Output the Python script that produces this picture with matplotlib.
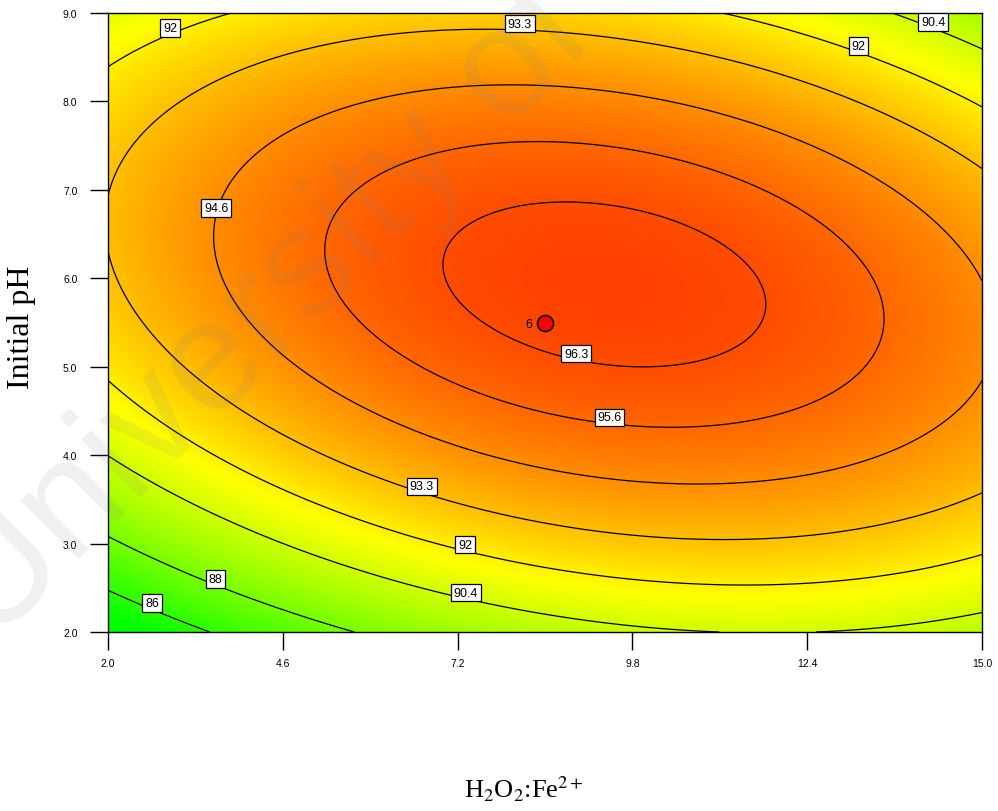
import numpy as np
import matplotlib
matplotlib.use("Agg")
import matplotlib.pyplot as plt
from matplotlib.colors import LinearSegmentedColormap, Normalize
from matplotlib.transforms import offset_copy

plt.rcParams["mathtext.fontset"] = "stix"

# Factor ranges (actual units)
ratio_range = [2.0, 15.0]     # H2O2:Fe2+ molar ratio
ph_range = [2.0, 9.0]         # initial pH

# Quadratic response-surface model in coded factors (-1 .. +1)
coef_0 = 96.49
coef_A = 0.962
coef_B = 1.533
coef_AB = -1.81
coef_AA = -2.72
coef_BB = -5.23

# Contour levels shown on the plot
contour_levels = [86, 88, 90.4, 92, 93.3, 94.6, 95.6, 96.3]

# Tick values
x_ticks = [2.0, 4.6, 7.2, 9.8, 12.4, 15.0]
y_ticks = [2.0, 3.0, 4.0, 5.0, 6.0, 7.0, 8.0, 9.0]

# Design centre point and its number of replicates
center_point = (8.5, 5.5)
center_reps = 6

# Colour-scale limits (green -> yellow -> red)
color_low, color_high = 84.85, 98.35

# Where the contour labels sit
label_spots = [(2.89, 8.82), (8.13, 8.90), (13.19, 8.62), (14.30, 8.88),
               (3.59, 6.73), (8.98, 5.13), (9.47, 4.43), (6.70, 3.65),
               (7.34, 3.00), (7.35, 2.46), (3.64, 2.60), (2.70, 2.34)]


def response(ratio, ph):
    a = (ratio - np.mean(ratio_range)) / (np.ptp(ratio_range) / 2)
    b = (ph - np.mean(ph_range)) / (np.ptp(ph_range) / 2)
    return (coef_0 + coef_A * a + coef_B * b + coef_AB * a * b
            + coef_AA * a ** 2 + coef_BB * b ** 2)


gx = np.linspace(*ratio_range, 400)
gy = np.linspace(*ph_range, 400)
GX, GY = np.meshgrid(gx, gy)
Z = response(GX, GY)

fig = plt.figure(figsize=(9.98, 8.12), dpi=100)
ax = fig.add_axes([108 / 998, 1 - 633 / 812, (982 - 108) / 998, (633 - 14) / 812])

cmap = LinearSegmentedColormap.from_list("gyr", ["#00ff00", "#ffff00", "#ff0000"])
ax.imshow(Z, extent=[*ratio_range, *ph_range], origin="lower", aspect="auto",
          cmap=cmap, norm=Normalize(color_low, color_high), interpolation="bilinear",
          zorder=0)

cs = ax.contour(GX, GY, Z, levels=contour_levels, colors="black", linewidths=0.9,
                zorder=2)
labels = ax.clabel(cs, inline=False, fmt=lambda v: f"{v:g}", fontsize=9,
                   manual=label_spots, zorder=4)
# labels sit just above their line, boxed and upright
label_shift = offset_copy(ax.transData, fig=fig, x=0, y=4.5, units="points")
for t in labels:
    t.set_rotation(0)
    t.set_transform(label_shift)
    t.set_fontfamily("Liberation Sans")
    t.set_bbox(dict(boxstyle="square,pad=0.22", fc="white", ec="black", lw=0.9))
    t.set_zorder(4)

ax.plot(*center_point, "o", ms=11.5, mfc="red", mec="black", mew=1.2, zorder=5)
ax.annotate(str(center_reps), xy=center_point, xytext=(-9, -1),
            textcoords="offset points", ha="right", va="center", fontsize=9,
            fontfamily="Liberation Sans", zorder=5)

ax.set_xlim(*ratio_range)
ax.set_ylim(*ph_range)
ax.set_xticks(x_ticks)
ax.set_yticks(y_ticks)
ax.set_xticklabels([f"{v:.1f}" for v in x_ticks])
ax.set_yticklabels([f"{v:.1f}" for v in y_ticks])
ax.tick_params(direction="out", length=13, width=1, labelsize=7.5, colors="black")
ax.tick_params(axis="x", pad=6)
ax.tick_params(axis="y", pad=9)
for lab in ax.get_xticklabels() + ax.get_yticklabels():
    lab.set_fontfamily("Liberation Sans")
for sp in ax.spines.values():
    sp.set_linewidth(1)

fig.text(524 / 998, 1 - 789 / 812, r"H$_2$O$_2$:Fe$^{2+}$", ha="center",
         va="center", fontsize=19, fontfamily="Liberation Serif")
fig.text(22 / 998, 1 - 327 / 812, "Initial pH", rotation=90, ha="center",
         va="center", fontsize=23, fontfamily="Liberation Serif")

fig.text(-8 / 998, 1 - 645 / 812, "University of", rotation=45,
         rotation_mode="anchor", ha="left", va="baseline", fontsize=112,
         fontfamily="Liberation Sans", color="gray", alpha=0.12, zorder=10)

fig.savefig("out.png", dpi=100)
